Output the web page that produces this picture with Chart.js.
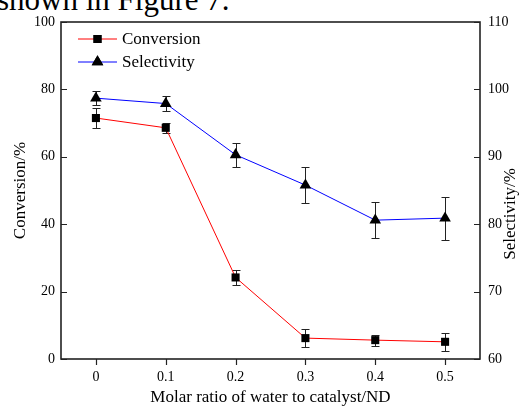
<!DOCTYPE html>
<html>
<head>
<meta charset="utf-8">
<script src="https://cdn.jsdelivr.net/npm/chart.js@4.4.1/dist/chart.umd.min.js"></script>
<style>
  body { margin: 0; background: #fff; }
  #wrap { position: relative; width: 530px; height: 410px; overflow: hidden; }
  #caption { position: absolute; left: -3px; top: -16px; font: 31px/31px "Liberation Serif", serif; color: #000; white-space: nowrap; }
  canvas { position: absolute; left: 0; top: 0; }
</style>
</head>
<body>
<div id="wrap">
  <div id="caption">shown in Figure 7.</div>
  <canvas id="chart" width="530" height="410"></canvas>
</div>
<script>
// water / catalyst molar ratio and the two measured responses
const ratios = [0, 0.1, 0.2, 0.3, 0.4, 0.5];
const conversion = [71.5, 68.6, 24.2, 6.2, 5.6, 5.1];
const conversionErr = [3.1, 1.4, 2.2, 2.6, 1.6, 2.6];
const selectivity = [98.7, 97.9, 90.3, 85.8, 80.6, 80.9];
const selectivityErr = [1.0, 1.1, 1.75, 2.7, 2.65, 3.2];
const xTicks = [0, 0.1, 0.2, 0.3, 0.4, 0.5];
const leftTicks = [0, 20, 40, 60, 80, 100];
const rightTicks = [60, 70, 80, 90, 100, 110];

const serif = '"Liberation Serif", "Times New Roman", serif';
const errors = [conversionErr, selectivityErr];

const toPoints = (ys) => ratios.map((x, i) => ({ x: x, y: ys[i] }));

// vertical error bars with caps, drawn under the markers
const errorBars = {
    id: 'errorBars',
    beforeDatasetsDraw(chart) {
        const ctx = chart.ctx;
        const xs = chart.scales.x;
        ctx.save();
        ctx.strokeStyle = '#222';
        ctx.lineWidth = 1;
        chart.data.datasets.forEach((ds, i) => {
            const ys = chart.scales[ds.yAxisID];
            ds.data.forEach((p, j) => {
                const e = errors[i][j];
                const px = Math.round(xs.getPixelForValue(p.x)) + 0.5;
                const top = Math.round(ys.getPixelForValue(p.y + e)) + 0.5;
                const bot = Math.round(ys.getPixelForValue(p.y - e)) + 0.5;
                ctx.beginPath();
                ctx.moveTo(px, top); ctx.lineTo(px, bot);
                ctx.moveTo(px - 4, top); ctx.lineTo(px + 4, top);
                ctx.moveTo(px - 4, bot); ctx.lineTo(px + 4, bot);
                ctx.stroke();
            });
        });
        ctx.restore();
    }
};

// closed frame, tick marks, right axis title and the line+marker legend
const frame = {
    id: 'frame',
    afterDraw(chart) {
        const ctx = chart.ctx;
        const a = chart.chartArea;
        const sx = chart.scales.x, sy = chart.scales.y, sy1 = chart.scales.y1;
        ctx.save();
        ctx.strokeStyle = '#222';
        ctx.lineWidth = 1.6;
        ctx.strokeRect(a.left, a.top, a.right - a.left, a.bottom - a.top);

        ctx.lineWidth = 1.2;
        ctx.beginPath();
        leftTicks.forEach(v => {
            const y = Math.round(sy.getPixelForValue(v)) + 0.5;
            ctx.moveTo(a.left, y); ctx.lineTo(a.left + 6, y);
        });
        rightTicks.forEach(v => {
            const y = Math.round(sy1.getPixelForValue(v)) + 0.5;
            ctx.moveTo(a.right, y); ctx.lineTo(a.right - 6, y);
        });
        xTicks.forEach(v => {
            const x = Math.round(sx.getPixelForValue(v)) + 0.5;
            ctx.moveTo(x, a.bottom); ctx.lineTo(x, a.bottom + 6);
        });
        ctx.stroke();

        ctx.fillStyle = '#000';
        ctx.font = '17px ' + serif;
        ctx.textAlign = 'center';
        ctx.textBaseline = 'middle';
        ctx.translate(511, 214);
        ctx.rotate(-Math.PI / 2);
        ctx.fillText('Selectivity/%', 0, 0);
        ctx.restore();

        ctx.save();
        ctx.font = '17px ' + serif;
        ctx.textBaseline = 'middle';
        chart.data.datasets.forEach((ds, i) => {
            const y = a.top + 17 + i * 23;
            const x0 = a.left + 17;
            ctx.strokeStyle = ds.borderColor;
            ctx.lineWidth = 1;
            ctx.beginPath();
            ctx.moveTo(x0, y); ctx.lineTo(x0 + 39, y);
            ctx.stroke();
            Chart.helpers.drawPoint(ctx, {
                pointStyle: ds.pointStyle, radius: ds.pointRadius, borderWidth: 0
            }, x0 + 19.5, y);
            ctx.fillStyle = '#000';
            ctx.fill();
            ctx.fillText(ds.label, x0 + 44, y + 1);
        });
        ctx.restore();
    }
};

const tickFont = { family: serif, size: 14 };

new Chart(document.getElementById('chart'), {
    type: 'line',
    data: {
        datasets: [
            {
                label: 'Conversion',
                data: toPoints(conversion),
                yAxisID: 'y',
                borderColor: '#ff0000',
                borderWidth: 1,
                pointStyle: 'rect',
                pointRadius: 5.7,
                pointBackgroundColor: '#000',
                pointBorderColor: '#000',
                pointBorderWidth: 0
            },
            {
                label: 'Selectivity',
                data: toPoints(selectivity),
                yAxisID: 'y1',
                borderColor: '#0000ff',
                borderWidth: 1,
                pointStyle: 'triangle',
                pointRadius: 6.7,
                pointBackgroundColor: '#000',
                pointBorderColor: '#000',
                pointBorderWidth: 0
            }
        ]
    },
    options: {
        responsive: false,
        devicePixelRatio: 1,
        animation: false,
        layout: { padding: { top: 22, left: 0, right: 0, bottom: 0 } },
        plugins: { legend: { display: false }, tooltip: { enabled: false } },
        scales: {
            x: {
                type: 'linear',
                min: -0.05,
                max: 0.55,
                afterBuildTicks: s => { s.ticks = xTicks.map(v => ({ value: v })); },
                afterFit: s => { s.height = 51; },
                grid: { display: false, drawTicks: false },
                border: { display: false },
                ticks: { font: tickFont, color: '#000', padding: 10, callback: v => String(v) },
                title: {
                    display: true,
                    text: 'Molar ratio of water to catalyst/ND',
                    font: { family: serif, size: 17 },
                    color: '#000',
                    padding: { top: 0, bottom: 2 }
                }
            },
            y: {
                position: 'left',
                min: 0,
                max: 100,
                afterBuildTicks: s => { s.ticks = leftTicks.map(v => ({ value: v })); },
                afterFit: s => { s.width = 61; },
                grid: { display: false, drawTicks: false },
                border: { display: false },
                ticks: { font: tickFont, color: '#000', padding: 6 },
                title: {
                    display: true,
                    text: 'Conversion/%',
                    font: { family: serif, size: 17 },
                    color: '#000',
                    padding: { top: 10, bottom: 0 }
                }
            },
            y1: {
                position: 'right',
                min: 60,
                max: 110,
                afterBuildTicks: s => { s.ticks = rightTicks.map(v => ({ value: v })); },
                afterFit: s => { s.width = 50; },
                grid: { display: false, drawTicks: false },
                border: { display: false },
                ticks: { font: tickFont, color: '#000', padding: 8 }
            }
        }
    },
    plugins: [errorBars, frame]
});
</script>
</body>
</html>
